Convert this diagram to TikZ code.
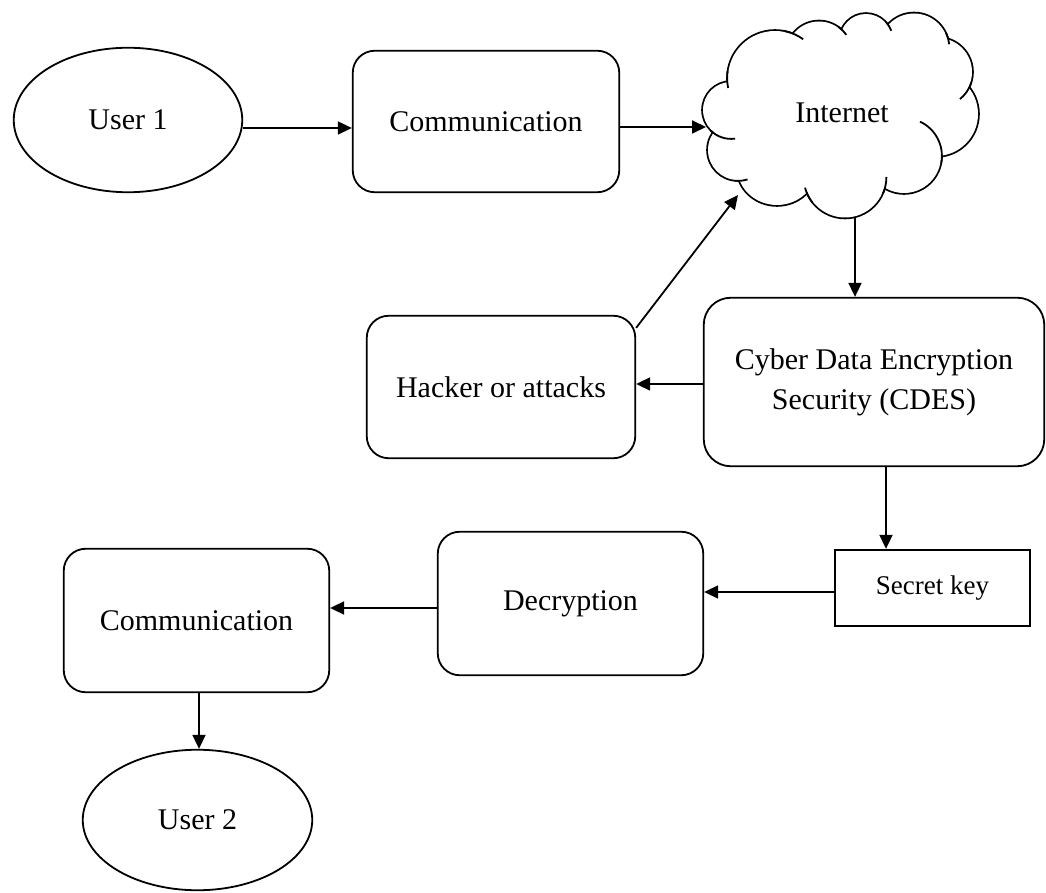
\documentclass[tikz,border=0pt]{standalone}
\usepackage{fontspec}
\setmainfont{Liberation Serif}
\usetikzlibrary{arrows.meta,shapes.geometric,calc}
\begin{document}
\begin{tikzpicture}[x=1pt,y=1pt,
  every node/.style={font=\fontsize{30}{40}\selectfont, inner sep=0pt},
  lw/.style={line width=1.8pt},
  rbox/.style={draw, lw, rounded corners=22pt, align=center},
  oval/.style={draw, lw, ellipse},
  arr/.style={lw, -{Triangle[length=14pt,width=13pt]}},
  puff/.style={line width=3.6pt},
  istroke/.style={line width=1.8pt}
]
\useasboundingbox (0,0) rectangle (1046,892);

% ---- nodes ----
\node[oval, minimum width=228.5pt, minimum height=144.5pt] (u1) at (128,772) {User 1};
\node[rbox, minimum width=266.5pt, minimum height=141.5pt] (c1) at (486,770.5) {Communication};
\node[rbox, rounded corners=27pt, minimum width=340.5pt, minimum height=168.5pt] (cdes) at (874,510) {Cyber Data Encryption\\Security (CDES)};
\node[rbox, minimum width=268.5pt, minimum height=142.5pt] (hk) at (501,505) {Hacker or attacks};
\node[draw, lw, minimum width=195.5pt, minimum height=76.5pt, font=\fontsize{27}{32}\selectfont] (sk) at (932.5,304) {Secret key};
\node[rbox, minimum width=265.5pt, minimum height=143.5pt] (dec) at (570.5,288.5) {Decryption};
\node[rbox, minimum width=265.5pt, minimum height=143.5pt] (c2) at (196.5,271.5) {Communication};
\node[oval, minimum width=229.5pt, minimum height=140.5pt] (u2) at (197.5,72) {User 2};

% ---- cloud ----
\foreach \cx/\cy/\r in {775/814/47, 819/838/32.5, 866/852/26, 914/844/34.5, 938/820/34, 936/778/42, 904/736/37, 845/715/40.5, 738/742/30, 731/782/28}
  \draw[puff] (\cx,\cy) circle[radius=\r pt];
\draw[puff] (777,725) ellipse[x radius=40pt, y radius=38pt];
\fill[white] (775,814) -- (819,838) -- (866,852) -- (914,844) -- (938,820) -- (936,778) -- (904,736) -- (845,715) -- (777,725) -- (738,742) -- (731,782) -- cycle;
\foreach \cx/\cy/\r in {775/814/47, 819/838/32.5, 866/852/26, 914/844/34.5, 938/820/34, 936/778/42, 904/736/37, 845/715/40.5, 738/742/30, 731/782/28}
  \fill[white] (\cx,\cy) circle[radius=\r pt];
\fill[white] (777,725) ellipse[x radius=40pt, y radius=38pt];
% inner strokes of the puffs
\draw[istroke] (775,814) ++(-168:47.9pt) arc[start angle=-168, end angle=-188, radius=47.9pt];
\draw[istroke] (775,814) ++(-282:47.9pt) arc[start angle=-282, end angle=-306, radius=47.9pt];
\draw[istroke] (819,838) ++(-305:33.4pt) arc[start angle=-305, end angle=-325, radius=33.4pt];
\draw[istroke] (866,852) ++(-318:26.9pt) arc[start angle=-318, end angle=-340, radius=26.9pt];
\draw[istroke] (914,844) ++(-335:35.4pt) arc[start angle=-335, end angle=-354, radius=35.4pt];
\draw[istroke] (938,820) ++(-17:34.9pt) arc[start angle=-17, end angle=-51, radius=34.9pt];
\draw[istroke] (904,736) ++(65:37.9pt) arc[start angle=65, end angle=-10, radius=37.9pt];
\draw[istroke] (845,715) ++(0:41.4pt) arc[start angle=0, end angle=-24, radius=41.4pt];
\draw[istroke] (845,715) ++(-142:41.4pt) arc[start angle=-142, end angle=-165, radius=41.4pt];
\draw[istroke] (738,742) ++(-72:30.9pt) arc[start angle=-72, end angle=-96, radius=30.9pt];
\draw[istroke] (731,782) ++(-82:28.9pt) arc[start angle=-82, end angle=-135, radius=28.9pt];
\node (inet) at (842,779) {Internet};
\coordinate (cloudW) at (706,765);
\coordinate (cloudS) at (855,675);
\coordinate (cloudSW) at (738,697);

% ---- connectors ----
\draw[arr] ([yshift=-8pt]u1.east) -- ([yshift=-8pt]u1.east -| c1.west);
\draw[arr] ([yshift=-5.5pt]c1.east) -- (cloudW);
\draw[arr] (cloudS) -- (cloudS |- cdes.north);
\draw[arr] ([yshift=-2pt]cdes.west) -- ([yshift=-2pt]cdes.west -| hk.east);
\draw[arr] ([yshift=-13pt]hk.north east) -- (cloudSW);
\draw[arr] ([xshift=12pt]cdes.south) -- ([xshift=12pt]cdes.south |- sk.north);
\draw[arr] ([yshift=-4pt]sk.west) -- ([yshift=-4pt]sk.west -| dec.east);
\draw[arr] ([yshift=-4.5pt]dec.west) -- ([yshift=-4.5pt]dec.west -| c2.east);
\draw[arr] ([xshift=2.5pt]c2.south) -- ([xshift=2.5pt]c2.south |- u2.north);
\end{tikzpicture}
\end{document}
